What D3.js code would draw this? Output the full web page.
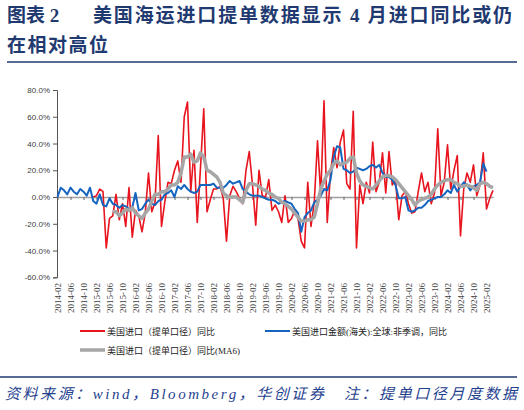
<!DOCTYPE html>
<html>
<head>
<meta charset="utf-8">
<script src="https://cdn.jsdelivr.net/npm/d3@7"></script>
<style>
  body { margin: 0; background: #fff; }
  svg { display: block; }
</style>
</head>
<body>
<div id="chart"></div>
<script>
// month index 0 = 2014-02, 134 = 2025-04
const tickLabels = ["2014-02","2014-06","2014-10","2015-02","2015-06","2015-10","2016-02","2016-06","2016-10",
  "2017-02","2017-06","2017-10","2018-02","2018-06","2018-10","2019-02","2019-06","2019-10",
  "2020-02","2020-06","2020-10","2021-02","2021-06","2021-10","2022-02","2022-06","2022-10",
  "2023-02","2023-06","2023-10","2024-02","2024-06","2024-10","2025-02"];

const yTicks = [-60, -40, -20, 0, 20, 40, 60, 80];

// 美国进口（提单口径）同比
const billYoY = [null,null,null,null,null,null,null,null,null,null,null,
  0,1,6,4,-38,-16,-14,2,-17,-5,
  -22,7,-30,-10,-14,-26,-12,18,-11,-4,
  46,-22,-4,11,10,20,27,11,60,71,
  4,35,-19,22,66,-11,-2,6,6,8,
  -1,-33,1,8,4,-1,-5,20,34,9,
  -21,20,1,0,13,-10,-6,-11,-19,1,
  -19,-16,-10,-16,-33,-38,11,-22,-4,42,
  1,72,-19,18,37,22,41,50,10,6,
  64,-38,9,-5,11,3,41,4,11,33,
  3,34,9,13,-17,1,4,-5,-12,-11,
  4,18,4,11,-5,3,51,1,11,39,
  6,20,31,-29,6,18,11,24,1,9,
  33,-9,-1,5];

// 美国进口金额(海关):全球:非季调，同比
const customsYoY = [0,7,5,2,7,4,2,6,4,1,
  7,-3,-5,2,-6,-7,-1,-5,-6,-8,
  -6,-7,-9,-8,3,-10,-9,-5,-2,-5,
  -6,-3,-2,2,3,5,0,8,6,9,
  6,4,3,4,9,9,9,9,10,7,
  7,7,9,12,10,11,12,6,4,2,
  1,1,1,0,-1,-2,-2,-3,-5,-4,
  -3,-4,-5,-9,-12,-26,-15,-12,-10,-4,
  -2,1,6,5,13,30,38,37,21,20,
  18,19,22,21,20,21,23,24,22,24,
  18,15,15,13,9,-1,-1,0,-10,-11,
  -10,-8,-8,-6,-3,-2,-1,0,0,2,
  5,3,9,4,8,11,9,5,8,9,
  11,25,19,null,null];

// 美国进口（提单口径）同比(MA6)
const billMA6 = [null,null,null,null,null,null,null,null,null,null,
  null,null,null,null,null,null,null,-11,-11,-14,
  -12,-9,-10,-8,-12,-14,-16,-12,-9,-3,
  2,2,4,4,6,9,9,11,18,30,
  30,32,26,27,33,30,20,19,17,15,
  11,3,1,0,0,0,-2,-4,5,10,
  10,9,8,6,5,3,2,0,-1,-4,
  -5,-7,-9,-12,-15,-18,-18,-17,-17,-15,
  -5,6,12,17,20,25,27,24,25,26,
  29,30,18,12,9,8,7,6,9,12,
  15,16,16,15,13,10,7,4,1,-2,
  -6,-3,-2,-1,0,2,6,9,11,12,
  13,13,11,10,8,8,9,8,7,5,
  10,11,10,8,7];

const W = 524, H = 410;
const svg = d3.select("#chart").append("svg").attr("width", W).attr("height", H);

const navy = "#1f3a70";
const cjk = "'Liberation Serif','Noto Sans CJK SC',serif";

// title
svg.append("text").attr("x", 7).attr("y", 22)
  .attr("font-family", cjk).attr("font-weight", "bold").attr("font-size", 19)
  .attr("fill", navy).text("图表 2");
svg.append("text").attr("x", 93).attr("y", 22)
  .attr("font-family", cjk).attr("font-weight", "bold").attr("font-size", 19)
  .attr("fill", navy).attr("textLength", 419).attr("lengthAdjust", "spacing")
  .text("美国海运进口提单数据显示 4 月进口同比或仍");
svg.append("text").attr("x", 7).attr("y", 52)
  .attr("font-family", cjk).attr("font-weight", "bold").attr("font-size", 19)
  .attr("fill", navy).attr("textLength", 101).attr("lengthAdjust", "spacing")
  .text("在相对高位");
svg.append("line").attr("x1", 7).attr("x2", 517).attr("y1", 62).attr("y2", 62)
  .attr("stroke", navy).attr("stroke-width", 1.5);

// scales
const x = d3.scaleLinear().domain([0, 134]).range([57.5, 493]);
const y = d3.scaleLinear().domain([-60, 80]).range([277.3, 90]);

// y axis
const yAxis = svg.append("g").attr("transform", "translate(57,0)")
  .call(d3.axisLeft(y).tickValues(yTicks).tickSize(4).tickFormat(d => d.toFixed(1) + "%"));
yAxis.selectAll("path,line").attr("stroke", "#555");
yAxis.selectAll("text").attr("font-family", "'Liberation Sans',Arial,sans-serif")
  .attr("font-size", 8).attr("fill", "#404040");

// zero line with ticks
const tickIdx = tickLabels.map((d, i) => i * 4);
const xAxis = svg.append("g").attr("transform", `translate(0,${y(0)})`)
  .call(d3.axisBottom(x).tickValues(tickIdx).tickSize(3).tickSizeOuter(0).tickFormat(""));
xAxis.select("path").attr("stroke", "#a0a0a0").attr("stroke-width", 1.5);
xAxis.selectAll("line").attr("stroke", "#666");

// bottom labels
const xLab = svg.append("g").attr("transform", "translate(0,280)")
  .call(d3.axisBottom(x).tickValues(tickIdx).tickSize(0).tickFormat((d, i) => tickLabels[i]));
xLab.select("path").remove();
xLab.selectAll("text")
  .attr("font-family", "'Liberation Serif','Times New Roman',serif")
  .attr("font-size", 9).attr("fill", "#404040")
  .attr("transform", "rotate(-90)")
  .attr("text-anchor", "end").attr("x", -3).attr("y", 0).attr("dy", "0.35em");

// lines
const line = d3.line().defined(d => d != null).x((d, i) => x(i)).y(d => y(d));
svg.append("path").datum(billYoY).attr("d", line)
  .attr("fill", "none").attr("stroke", "#e8141e").attr("stroke-width", 1.6).attr("stroke-linejoin", "round");
svg.append("path").datum(customsYoY).attr("d", line)
  .attr("fill", "none").attr("stroke", "#1565c0").attr("stroke-width", 2).attr("stroke-linejoin", "round");
svg.append("path").datum(billMA6).attr("d", line)
  .attr("fill", "none").attr("stroke", "#a6a6a6").attr("stroke-width", 3.5).attr("stroke-linejoin", "round");

// legend
const legend = [
  { name: "美国进口（提单口径）同比", color: "#e8141e", w: 2, x: 80, y: 331 },
  { name: "美国进口金额(海关):全球:非季调，同比", color: "#1565c0", w: 2, x: 265, y: 331 },
  { name: "美国进口（提单口径）同比(MA6)", color: "#a6a6a6", w: 3.5, x: 80, y: 350 }
];
const lg = svg.append("g").selectAll("g").data(legend).join("g")
  .attr("transform", d => `translate(${d.x},${d.y})`);
lg.append("line").attr("x1", 0).attr("x2", 25)
  .attr("stroke", d => d.color).attr("stroke-width", d => d.w);
lg.append("text").attr("x", 27).attr("y", 3.5)
  .attr("font-family", cjk).attr("font-size", 9).attr("fill", "#222")
  .text(d => d.name);

// footer
svg.append("line").attr("x1", 0).attr("x2", 517).attr("y1", 377).attr("y2", 377)
  .attr("stroke", navy).attr("stroke-width", 1.5);
svg.append("text").attr("x", 5).attr("y", 399)
  .attr("font-family", cjk).attr("font-style", "italic").attr("font-size", 15)
  .attr("fill", "#1f3f8f").attr("textLength", 512).attr("lengthAdjust", "spacing")
  .text("资料来源：wind，Bloomberg，华创证券　注：提单口径月度数据");
</script>
</body>
</html>
